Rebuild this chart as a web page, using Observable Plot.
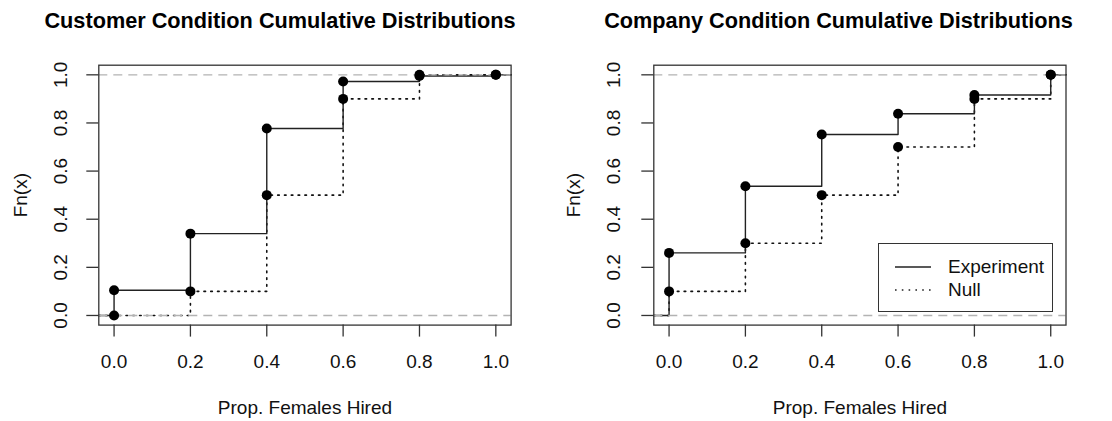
<!DOCTYPE html>
<html>
<head>
<meta charset="utf-8">
<script src="https://cdn.jsdelivr.net/npm/d3@7"></script>
<script src="https://cdn.jsdelivr.net/npm/@observablehq/plot@0.6"></script>
<style>
  html, body { margin: 0; padding: 0; background: #fff; }
  body { width: 1112px; height: 421px; overflow: hidden; font-family: "Liberation Sans", Arimo, Arial, sans-serif; }
  #wrap { position: relative; width: 1112px; height: 421px; }
  .panel { position: absolute; top: 0; width: 556px; height: 421px; }
  .panel svg { position: absolute; left: 0; top: 0; }
  .title { position: absolute; top: 10px; left: 0; text-align: center; font-weight: bold; font-size: 21.7px; line-height: 21.7px; color: #000; white-space: nowrap; }
  .legend { position: absolute; border: 1.3px solid #333; box-sizing: border-box; background: #fff; }
  .legend .row { position: absolute; left: 0; height: 22px; font-size: 19px; line-height: 22px; color: #111; }
  .legend .row svg { position: absolute; top: 0; }
  .legend .row span { position: absolute; white-space: nowrap; }
</style>
</head>
<body>
<div id="wrap"></div>
<script>
// ---- data ----
const xValues = [0.0, 0.2, 0.4, 0.6, 0.8, 1.0];
const xTicks = [0.0, 0.2, 0.4, 0.6, 0.8, 1.0];
const yTicks = [0.0, 0.2, 0.4, 0.6, 0.8, 1.0];
const customerExperiment = [0.105, 0.34, 0.777, 0.972, 0.995, 1.0];
const customerNull = [0.0, 0.1, 0.5, 0.9, 1.0, 1.0];
const companyExperiment = [0.26, 0.537, 0.752, 0.838, 0.916, 1.0];
const companyNull = [0.1, 0.3, 0.5, 0.7, 0.9, 1.0];
const titles = ["Customer Condition Cumulative Distributions", "Company Condition Cumulative Distributions"];
const xLabel = "Prop. Females Hired";
const yLabel = "Fn(x)";
const legendLabels = ["Experiment", "Null"];

const xDomain = [-0.04, 1.04];
const yDomain = [-0.04, 1.04];

function stepData(vals) {
  const pts = xValues.map((x, i) => ({x, y: vals[i]}));
  return [{x: xDomain[0], y: 0}, ...pts, {x: xDomain[1], y: vals[vals.length - 1]}];
}
function pointData(vals) {
  return xValues.map((x, i) => ({x, y: vals[i]}));
}

const wrap = document.getElementById("wrap");

function makePanel(idx, expVals, nullVals, opts) {
  const panel = document.createElement("div");
  panel.className = "panel";
  panel.style.left = (idx * 556) + "px";
  wrap.appendChild(panel);

  const chart = Plot.plot({
    width: 556,
    height: 421,
    marginLeft: opts.marginLeft,
    marginRight: opts.marginRight,
    marginTop: 64.7,
    marginBottom: 96.4,
    style: {fontFamily: '"Liberation Sans", Arimo, Arial, sans-serif', fontSize: "19px", color: "#111", background: "#fff"},
    x: {domain: xDomain},
    y: {domain: yDomain},
    marks: [
      Plot.line(stepData(nullVals), {x: "x", y: "y", curve: "step-after", stroke: "#111", strokeWidth: 1.6, strokeDasharray: "1.6,5.2"}),
      Plot.line(stepData(expVals), {x: "x", y: "y", curve: "step-after", stroke: "#222", strokeWidth: 1.4}),
      Plot.ruleY([0, 1], {stroke: "#b3b3b3", strokeWidth: 1.4, strokeDasharray: "9,6"}),
      Plot.dot(pointData(nullVals), {x: "x", y: "y", r: 5, fill: "#000", stroke: "none"}),
      Plot.dot(pointData(expVals), {x: "x", y: "y", r: 5, fill: "#000", stroke: "none"}),
      Plot.frame({stroke: "#333", strokeWidth: 1.3}),
      Plot.axisX({ticks: xTicks, tickFormat: d3.format(".1f"), tickSize: 12, tickPadding: 17.6, label: null, stroke: "#333", strokeWidth: 1.3}),
      Plot.axisY({ticks: yTicks, tickFormat: d3.format(".1f"), tickSize: 12, tickPadding: opts.yPad, tickRotate: -90, label: null, stroke: "#333", strokeWidth: 1.3}),
      Plot.text([xLabel], {frameAnchor: "bottom", dy: 83, lineAnchor: "middle", fontSize: 19, fill: "#111"}),
      Plot.text([yLabel], {frameAnchor: "left", dx: opts.yLabelDx, rotate: -90, lineAnchor: "middle", textAnchor: "middle", fontSize: 19, fill: "#111"})
    ]
  });
  panel.appendChild(chart);

  const t = document.createElement("div");
  t.className = "title";
  t.style.width = opts.titleWidth + "px";
  t.textContent = titles[idx];
  panel.appendChild(t);
  return panel;
}

makePanel(0, customerExperiment, customerNull, {marginLeft: 98.3, marginRight: 45.4, yPad: 19.5, yLabelDx: -78.3, titleWidth: 560});
const right = makePanel(1, companyExperiment, companyNull, {marginLeft: 97.3, marginRight: 46.5, yPad: 21.5, yLabelDx: -80.3, titleWidth: 565});

// legend (right panel)
const leg = document.createElement("div");
leg.className = "legend";
leg.style.left = "322px";
leg.style.top = "242.7px";
leg.style.width = "175px";
leg.style.height = "69px";
right.appendChild(leg);
const dashes = [null, "1.6,5.2"];
legendLabels.forEach((lab, i) => {
  const row = document.createElement("div");
  row.className = "row";
  row.style.top = (12 + i * 23.3) + "px";
  row.style.width = "170px";
  const sw = document.createElementNS("http://www.w3.org/2000/svg", "svg");
  sw.setAttribute("width", "40");
  sw.setAttribute("height", "22");
  sw.style.left = "16px";
  const ln = document.createElementNS("http://www.w3.org/2000/svg", "line");
  ln.setAttribute("x1", "0"); ln.setAttribute("x2", "36");
  ln.setAttribute("y1", "11"); ln.setAttribute("y2", "11");
  ln.setAttribute("stroke", "#222");
  ln.setAttribute("stroke-width", i ? "1.6" : "1.4");
  if (dashes[i]) ln.setAttribute("stroke-dasharray", dashes[i]);
  sw.appendChild(ln);
  row.appendChild(sw);
  const sp = document.createElement("span");
  sp.style.left = "69px";
  sp.textContent = lab;
  row.appendChild(sp);
  leg.appendChild(row);
});
</script>
</body>
</html>
